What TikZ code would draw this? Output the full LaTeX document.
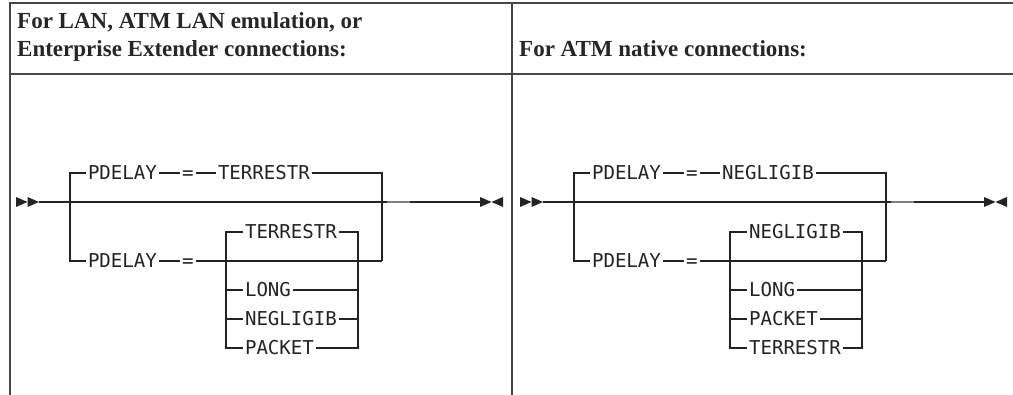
\documentclass[tikz,border=0pt]{standalone}
\usepackage{fontspec}
\setmainfont{Liberation Serif}
\newfontfamily\railfont{DejaVu Sans Mono}
\usetikzlibrary{calc}

\definecolor{frameline}{RGB}{70, 70, 70}
\definecolor{railline}{RGB}{35, 35, 35}

\tikzset{
  kw/.style={anchor=west, font=\railfont\fontsize{19.1}{23}\selectfont,
    inner xsep=2pt, inner ysep=0pt, outer sep=0pt,
    text height=13.9pt, text depth=0pt, text=railline},
  head/.style={anchor=base west, inner sep=0pt,
    font=\bfseries\fontsize{23}{27}\selectfont, text=black!85},
  rail/.style={draw=railline, line width=1.1pt},
  frame/.style={draw=frameline, line width=1.5pt},
  blip/.style={draw=gray, line width=2.2pt}
}

\begin{document}
\begin{tikzpicture}[x=1pt, y=-1pt]
        \useasboundingbox (0,0) rectangle (1013,395);
        % table frame
        \draw[frame] (10,395) -- (10,3) -- (1013,3);
        \draw[frame] (10,74) -- (1013,74);
        \draw[frame] (512,3) -- (512,395);
        \node[head] (hl1) at (17,29) {For LAN, ATM LAN emulation, or};
        \node[head] (hl2) at (17,57) {Enterprise Extender connections:};
        \node[head] (hr) at (519,57) {For ATM native connections:};
        % the two syntax diagrams
        \foreach \dx/\p/\a/\b/\c/\d in {0/L/TERRESTR/LONG/NEGLIGIB/PACKET,
                                        504/R/NEGLIGIB/LONG/PACKET/TERRESTR}{
          \begin{scope}[xshift=\dx pt, name prefix=\p-]
            \coordinate (in) at (39,202);
            \coordinate (out) at (480,202);
            \coordinate (sl) at (70,202);
            \coordinate (jr) at (382,261);
            \coordinate (sbl) at (226,348);
            \coordinate (sbr) at (358,348);
            \node[kw] (pd1) at (86,173) {PDELAY};
            \node[kw] (eq1) at (180,173) {=};
            \node[kw] (v0) at (216,173) {\a};
            \node[kw] (pd2) at (86,261) {PDELAY};
            \node[kw] (eq2) at (180,261) {=};
            \node[kw] (v1) at (243,232) {\a};
            \node[kw] (v2) at (243,290) {\b};
            \node[kw] (v3) at (243,319) {\c};
            \node[kw] (v4) at (243,348) {\d};
            % main line and end marks
            \draw[rail] (in) -- (out);
            \fill[railline] (in) ++(-23,-5) -- ++(11.5,5) -- ++(-11.5,5) -- cycle;
            \fill[railline] (in) ++(-11.5,-5) -- ++(11.5,5) -- ++(-11.5,5) -- cycle;
            \fill[railline] (out) ++(0,-5) -- ++(11.5,5) -- ++(-11.5,5) -- cycle;
            \fill[railline] (out) ++(23,-5) -- ++(-11.5,5) -- ++(11.5,5) -- cycle;
            \draw[blip] (387,202) -- (410,202);
            % upper branch
            \draw[rail] (sl) |- (pd1);
            \draw[rail] (pd1) -- (eq1);
            \draw[rail] (eq1) -- (v0);
            \draw[rail] (v0) -| (jr);
            % lower branch
            \draw[rail] (sl) |- (pd2);
            \draw[rail] (pd2) -- (eq2);
            \draw[rail] (eq2) -- (jr);
            % value stack
            \draw[rail] (v1) -| (sbl) -- (v4);
            \draw[rail] (v1) -| (sbr) -- (v4);
            \draw[rail] (v2) -- (v2 -| sbl);
            \draw[rail] (v2) -- (v2 -| sbr);
            \draw[rail] (v3) -- (v3 -| sbl);
            \draw[rail] (v3) -- (v3 -| sbr);
          \end{scope}
        }
      \end{tikzpicture}
\end{document}
